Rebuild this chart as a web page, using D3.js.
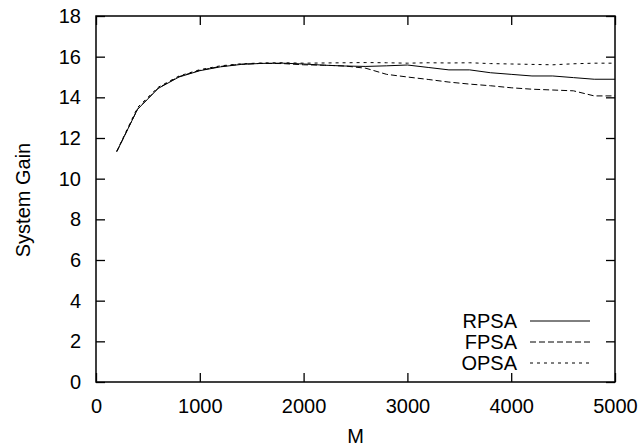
<!DOCTYPE html>
<html>
<head>
<meta charset="utf-8">
<script src="https://cdn.jsdelivr.net/npm/d3@7"></script>
<style>
  body { margin: 0; background: #fff; }
  text { font-family: "Liberation Sans", Arial, sans-serif; fill: #000; }
</style>
</head>
<body>
<div id="chart-area"></div>
<script>
const MARGIN = { LEFT: 96, RIGHT: 27, TOP: 16, BOTTOM: 65 }
const WIDTH = 642 - MARGIN.LEFT - MARGIN.RIGHT
const HEIGHT = 447 - MARGIN.TOP - MARGIN.BOTTOM
const FONT = "20px"

// M values (x)
const mValues = [200, 400, 600, 800, 1000, 1200, 1400, 1600, 1800, 2000, 2200, 2400, 2600,
	2800, 3000, 3200, 3400, 3600, 3800, 4000, 4200, 4400, 4600, 4800, 5000]

const rpsa = [11.33, 13.41, 14.44, 15.0, 15.31, 15.5, 15.62, 15.67, 15.68, 15.64, 15.58, 15.54, 15.52,
	15.55, 15.59, 15.47, 15.35, 15.35, 15.21, 15.13, 15.05, 15.05, 14.97, 14.89, 14.89]

const fpsa = [11.33, 13.42, 14.46, 15.02, 15.33, 15.52, 15.63, 15.67, 15.66, 15.6, 15.58, 15.54, 15.43,
	15.13, 15.0, 14.88, 14.75, 14.65, 14.57, 14.47, 14.4, 14.36, 14.32, 14.07, 14.07]

const opsa = [11.35, 13.5, 14.5, 15.05, 15.36, 15.55, 15.65, 15.69, 15.7, 15.68, 15.69, 15.7, 15.71,
	15.7, 15.68, 15.7, 15.69, 15.7, 15.66, 15.64, 15.62, 15.6, 15.65, 15.68, 15.68]

const seriesNames = ["RPSA", "FPSA", "OPSA"]
const xTicks = [0, 1000, 2000, 3000, 4000, 5000]
const yTicks = [0, 2, 4, 6, 8, 10, 12, 14, 16, 18]

const series = [
	{ name: seriesNames[0], values: rpsa, dash: null },
	{ name: seriesNames[1], values: fpsa, dash: "6,3" },
	{ name: seriesNames[2], values: opsa, dash: "3,4" }
]

const svg = d3.select("#chart-area").append("svg")
	.attr("width", 642)
	.attr("height", 447)

const g = svg.append("g")
	.attr("transform", `translate(${MARGIN.LEFT}, ${MARGIN.TOP})`)

const x = d3.scaleLinear().domain([0, 5000]).range([0, WIDTH])
const y = d3.scaleLinear().domain([0, 18]).range([HEIGHT, 0])

const TICK = 9

// axes with inward ticks, mirrored on top and right
g.append("g").attr("transform", `translate(0, ${HEIGHT})`)
	.call(d3.axisBottom(x).tickValues(xTicks).tickFormat(d3.format("d"))
		.tickSizeInner(-TICK).tickSizeOuter(0).tickPadding(TICK + 8))
g.append("g")
	.call(d3.axisTop(x).tickValues(xTicks).tickSizeInner(-TICK).tickSizeOuter(0).tickFormat(""))
g.append("g")
	.call(d3.axisLeft(y).tickValues(yTicks).tickSizeInner(-TICK).tickSizeOuter(0).tickPadding(TICK + 6))
g.append("g").attr("transform", `translate(${WIDTH}, 0)`)
	.call(d3.axisRight(y).tickValues(yTicks).tickSizeInner(-TICK).tickSizeOuter(0).tickFormat(""))

g.selectAll(".domain").remove()
g.selectAll(".tick line").attr("stroke", "#000").attr("stroke-width", 1.3)
g.selectAll(".tick text").style("font-size", FONT).attr("fill", "#000")

// frame
g.append("rect")
	.attr("width", WIDTH)
	.attr("height", HEIGHT)
	.attr("fill", "none")
	.attr("stroke", "#000")
	.attr("stroke-width", 1.5)

const line = d3.line()
	.x((d, i) => x(mValues[i]))
	.y(d => y(d))

g.selectAll("path.series")
	.data(series)
	.enter()
	.append("path")
	.attr("class", "series")
	.attr("d", d => line(d.values))
	.attr("fill", "none")
	.attr("stroke", "#000")
	.attr("stroke-width", 1)
	.attr("stroke-dasharray", d => d.dash)

// legend
const legend = g.selectAll("g.legend")
	.data(series)
	.enter()
	.append("g")
	.attr("class", "legend")
	.attr("transform", (d, i) => `translate(0, ${321 + i * 21 - MARGIN.TOP})`)

legend.append("text")
	.attr("x", 421)
	.attr("dy", "0.35em")
	.attr("text-anchor", "end")
	.style("font-size", FONT)
	.text(d => d.name)

legend.append("line")
	.attr("x1", 434)
	.attr("x2", 494)
	.attr("stroke", "#000")
	.attr("stroke-width", 1)
	.attr("stroke-dasharray", d => d.dash)

// axis titles
svg.append("text")
	.attr("x", MARGIN.LEFT + WIDTH / 2)
	.attr("y", 443)
	.attr("text-anchor", "middle")
	.style("font-size", FONT)
	.text("M")

svg.append("text")
	.attr("transform", "translate(30, 200) rotate(-90)")
	.attr("text-anchor", "middle")
	.style("font-size", FONT)
	.text("System Gain")
</script>
</body>
</html>
